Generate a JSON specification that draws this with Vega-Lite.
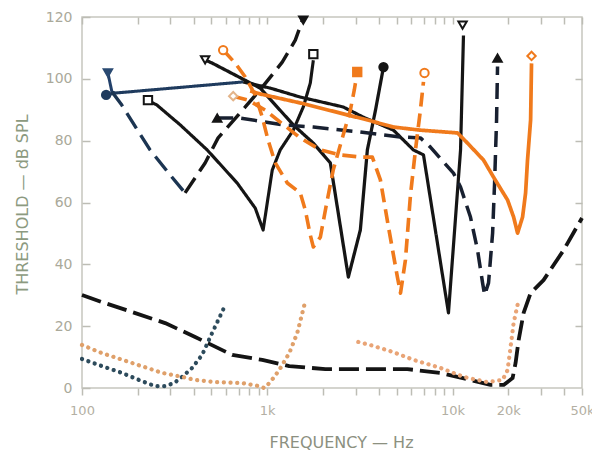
{
  "$schema": "https://vega.github.io/schema/vega-lite/v6.json",
  "width": 500,
  "height": 371,
  "autosize": "none",
  "padding": {"left": 82, "top": 17, "right": 10, "bottom": 67},
  "background": "white",
  "config": {"view": {"stroke": "#c6c6be", "strokeWidth": 1.5}, "font": "DejaVu Sans"},
  "datasets": {
    "curves": [
      {"s": "blue-stem", "i": 0, "f": 138, "db": 101.9},
      {"s": "blue-stem", "i": 1, "f": 145, "db": 95.8},
      {"s": "blue-stem", "i": 2, "f": 151, "db": 95.4},
      {"s": "blue-solid", "i": 0, "f": 135, "db": 94.8},
      {"s": "blue-solid", "i": 1, "f": 151, "db": 95.4},
      {"s": "blue-solid", "i": 2, "f": 742, "db": 99.0},
      {"s": "black-c", "i": 0, "f": 227, "db": 93.1},
      {"s": "black-c", "i": 1, "f": 254, "db": 91.5},
      {"s": "black-c", "i": 2, "f": 339, "db": 85.1},
      {"s": "black-c", "i": 3, "f": 474, "db": 77.0},
      {"s": "black-c", "i": 4, "f": 688, "db": 66.3},
      {"s": "black-c", "i": 5, "f": 861, "db": 58.2},
      {"s": "black-c", "i": 6, "f": 950, "db": 51.1},
      {"s": "black-c", "i": 7, "f": 1064, "db": 70.5},
      {"s": "black-c", "i": 8, "f": 1175, "db": 77.0},
      {"s": "black-c", "i": 9, "f": 1382, "db": 83.4},
      {"s": "black-c", "i": 10, "f": 1565, "db": 90.9},
      {"s": "black-c", "i": 11, "f": 1707, "db": 98.6},
      {"s": "black-c", "i": 12, "f": 1773, "db": 106},
      {"s": "black-long", "i": 0, "f": 742, "db": 99.0},
      {"s": "black-long", "i": 1, "f": 1038, "db": 97.0},
      {"s": "black-long", "i": 2, "f": 1507, "db": 94.1},
      {"s": "black-long", "i": 3, "f": 2570, "db": 90.9},
      {"s": "black-long", "i": 4, "f": 3300, "db": 87.6},
      {"s": "black-long", "i": 5, "f": 4800, "db": 83.4},
      {"s": "black-long", "i": 6, "f": 6150, "db": 77.0},
      {"s": "black-long", "i": 7, "f": 6970, "db": 75.4},
      {"s": "black-long", "i": 8, "f": 9510, "db": 24.3},
      {"s": "black-long", "i": 9, "f": 11050, "db": 77.0},
      {"s": "black-long", "i": 10, "f": 11460, "db": 114},
      {"s": "black-v", "i": 0, "f": 462, "db": 106.1},
      {"s": "black-v", "i": 1, "f": 504, "db": 105.1},
      {"s": "black-v", "i": 2, "f": 916, "db": 97.0},
      {"s": "black-v", "i": 3, "f": 1382, "db": 85.1},
      {"s": "black-v", "i": 4, "f": 1773, "db": 79.2},
      {"s": "black-v", "i": 5, "f": 2190, "db": 72.8},
      {"s": "black-v", "i": 6, "f": 2740, "db": 35.9},
      {"s": "black-v", "i": 7, "f": 3180, "db": 51.1},
      {"s": "black-v", "i": 8, "f": 3470, "db": 77.0},
      {"s": "black-v", "i": 9, "f": 3840, "db": 89.9},
      {"s": "black-v", "i": 10, "f": 4240, "db": 103.8},
      {"s": "dash-blue", "i": 0, "f": 145, "db": 95.8},
      {"s": "dash-blue", "i": 1, "f": 164, "db": 91.5},
      {"s": "dash-blue", "i": 2, "f": 233, "db": 77.0},
      {"s": "dash-blue", "i": 3, "f": 299, "db": 68.9},
      {"s": "dash-blue", "i": 4, "f": 360, "db": 63.1},
      {"s": "dash-black", "i": 0, "f": 360, "db": 63.1},
      {"s": "dash-black", "i": 1, "f": 462, "db": 72.8},
      {"s": "dash-black", "i": 2, "f": 543, "db": 80.9},
      {"s": "dash-black", "i": 3, "f": 761, "db": 90.9},
      {"s": "dash-black", "i": 4, "f": 940, "db": 97.3},
      {"s": "dash-black", "i": 5, "f": 1205, "db": 105.4},
      {"s": "dash-black", "i": 6, "f": 1417, "db": 112.5},
      {"s": "dash-black", "i": 7, "f": 1565, "db": 119.7},
      {"s": "dash-tri", "i": 0, "f": 537, "db": 87.3},
      {"s": "dash-tri", "i": 1, "f": 715, "db": 87.3},
      {"s": "dash-tri", "i": 2, "f": 1220, "db": 85.1},
      {"s": "dash-tri", "i": 3, "f": 1773, "db": 84.4},
      {"s": "dash-tri", "i": 4, "f": 3180, "db": 82.8},
      {"s": "dash-tri", "i": 5, "f": 5240, "db": 81.2},
      {"s": "dash-tri", "i": 6, "f": 6710, "db": 80.9},
      {"s": "dash-tri", "i": 7, "f": 7600, "db": 77.9},
      {"s": "dash-tri", "i": 8, "f": 8940, "db": 73.1},
      {"s": "dash-tri", "i": 9, "f": 10120, "db": 69.5},
      {"s": "dash-tri", "i": 10, "f": 11050, "db": 65.0},
      {"s": "dash-tri", "i": 11, "f": 12500, "db": 55.3},
      {"s": "dash-tri", "i": 12, "f": 13650, "db": 44.6},
      {"s": "dash-tri", "i": 13, "f": 14530, "db": 34.0},
      {"s": "dash-tri", "i": 14, "f": 14900, "db": 30.1},
      {"s": "dash-tri", "i": 15, "f": 15650, "db": 34.0},
      {"s": "dash-tri", "i": 16, "f": 16460, "db": 50.1},
      {"s": "dash-tri", "i": 17, "f": 16870, "db": 66.3},
      {"s": "dash-tri", "i": 18, "f": 17290, "db": 86.7},
      {"s": "dash-tri", "i": 19, "f": 17500, "db": 104},
      {"s": "orange-1", "i": 0, "f": 578, "db": 109.3},
      {"s": "orange-1", "i": 1, "f": 671, "db": 105.1},
      {"s": "orange-1", "i": 2, "f": 761, "db": 100.6},
      {"s": "orange-1", "i": 3, "f": 861, "db": 94.8},
      {"s": "orange-1", "i": 4, "f": 940, "db": 87.6},
      {"s": "orange-1", "i": 5, "f": 1010, "db": 80.2},
      {"s": "orange-1", "i": 6, "f": 1105, "db": 72.8},
      {"s": "orange-1", "i": 7, "f": 1283, "db": 66.3},
      {"s": "orange-1", "i": 8, "f": 1507, "db": 63.1},
      {"s": "orange-1", "i": 9, "f": 1604, "db": 57.6},
      {"s": "orange-1", "i": 10, "f": 1707, "db": 49.5},
      {"s": "orange-1", "i": 11, "f": 1773, "db": 45.6},
      {"s": "orange-1", "i": 12, "f": 1935, "db": 48.8},
      {"s": "orange-1", "i": 13, "f": 2084, "db": 59.2},
      {"s": "orange-1", "i": 14, "f": 2270, "db": 70.5},
      {"s": "orange-1", "i": 15, "f": 2480, "db": 78.6},
      {"s": "orange-1", "i": 16, "f": 2810, "db": 89.9},
      {"s": "orange-1", "i": 17, "f": 2950, "db": 96.4},
      {"s": "orange-1", "i": 18, "f": 3060, "db": 102.2},
      {"s": "orange-2", "i": 0, "f": 655, "db": 94.4},
      {"s": "orange-2", "i": 1, "f": 789, "db": 93.1},
      {"s": "orange-2", "i": 2, "f": 975, "db": 89.9},
      {"s": "orange-2", "i": 3, "f": 1175, "db": 86.0},
      {"s": "orange-2", "i": 4, "f": 1507, "db": 80.9},
      {"s": "orange-2", "i": 5, "f": 1935, "db": 77.0},
      {"s": "orange-2", "i": 6, "f": 2480, "db": 75.4},
      {"s": "orange-2", "i": 7, "f": 3180, "db": 74.7},
      {"s": "orange-2", "i": 8, "f": 3690, "db": 74.7},
      {"s": "orange-2", "i": 9, "f": 4080, "db": 67.3},
      {"s": "orange-2", "i": 10, "f": 4510, "db": 52.1},
      {"s": "orange-2", "i": 11, "f": 5040, "db": 35.9},
      {"s": "orange-2", "i": 12, "f": 5240, "db": 30.7},
      {"s": "orange-2", "i": 13, "f": 5570, "db": 41.4},
      {"s": "orange-2", "i": 14, "f": 5930, "db": 62.4},
      {"s": "orange-2", "i": 15, "f": 6310, "db": 77.0},
      {"s": "orange-2", "i": 16, "f": 6710, "db": 89.9},
      {"s": "orange-2", "i": 17, "f": 6970, "db": 99.0},
      {"s": "orange-solid", "i": 0, "f": 809, "db": 96.1},
      {"s": "orange-solid", "i": 1, "f": 916, "db": 95.1},
      {"s": "orange-solid", "i": 2, "f": 1507, "db": 92.2},
      {"s": "orange-solid", "i": 3, "f": 3470, "db": 86.7},
      {"s": "orange-solid", "i": 4, "f": 4800, "db": 84.4},
      {"s": "orange-solid", "i": 5, "f": 6710, "db": 83.4},
      {"s": "orange-solid", "i": 6, "f": 10640, "db": 82.5},
      {"s": "orange-solid", "i": 7, "f": 12050, "db": 79.2},
      {"s": "orange-solid", "i": 8, "f": 14710, "db": 73.7},
      {"s": "orange-solid", "i": 9, "f": 16650, "db": 68.2},
      {"s": "orange-solid", "i": 10, "f": 19830, "db": 60.8},
      {"s": "orange-solid", "i": 11, "f": 21370, "db": 55.3},
      {"s": "orange-solid", "i": 12, "f": 22450, "db": 50.1},
      {"s": "orange-solid", "i": 13, "f": 23890, "db": 55.3},
      {"s": "orange-solid", "i": 14, "f": 24800, "db": 63.1},
      {"s": "orange-solid", "i": 15, "f": 25400, "db": 73.7},
      {"s": "orange-solid", "i": 16, "f": 26400, "db": 86.7},
      {"s": "orange-solid", "i": 17, "f": 26700, "db": 105.0},
      {"s": "threshold", "i": 0, "f": 100, "db": 30.1},
      {"s": "threshold", "i": 1, "f": 128, "db": 27.8},
      {"s": "threshold", "i": 2, "f": 186, "db": 24.6},
      {"s": "threshold", "i": 3, "f": 281, "db": 21.0},
      {"s": "threshold", "i": 4, "f": 408, "db": 16.5},
      {"s": "threshold", "i": 5, "f": 647, "db": 10.7},
      {"s": "threshold", "i": 6, "f": 940, "db": 9.1},
      {"s": "threshold", "i": 7, "f": 1315, "db": 7.1},
      {"s": "threshold", "i": 8, "f": 2060, "db": 6.1},
      {"s": "threshold", "i": 9, "f": 4080, "db": 6.1},
      {"s": "threshold", "i": 10, "f": 5710, "db": 6.1},
      {"s": "threshold", "i": 11, "f": 8610, "db": 4.9},
      {"s": "threshold", "i": 12, "f": 12500, "db": 2.6},
      {"s": "threshold", "i": 13, "f": 16040, "db": 1.0},
      {"s": "threshold", "i": 14, "f": 18870, "db": 1.0},
      {"s": "threshold", "i": 15, "f": 21100, "db": 3.2},
      {"s": "threshold", "i": 16, "f": 21900, "db": 8.1},
      {"s": "threshold", "i": 17, "f": 22750, "db": 15.5},
      {"s": "threshold", "i": 18, "f": 24200, "db": 24.3},
      {"s": "threshold", "i": 19, "f": 26400, "db": 30.7},
      {"s": "threshold", "i": 20, "f": 31000, "db": 34.9},
      {"s": "threshold", "i": 21, "f": 39800, "db": 44.6},
      {"s": "threshold", "i": 22, "f": 50000, "db": 55.0}
    ],
    "dots": [
      {"s": "dots-1", "i": 0, "f": 100, "db": 9.4},
      {"s": "dots-1", "i": 1, "f": 128, "db": 7.1},
      {"s": "dots-1", "i": 2, "f": 164, "db": 4.9},
      {"s": "dots-1", "i": 3, "f": 203, "db": 2.6},
      {"s": "dots-1", "i": 4, "f": 248, "db": 0.6},
      {"s": "dots-1", "i": 5, "f": 281, "db": 0.6},
      {"s": "dots-1", "i": 6, "f": 314, "db": 1.6},
      {"s": "dots-1", "i": 7, "f": 347, "db": 3.6},
      {"s": "dots-1", "i": 8, "f": 393, "db": 6.5},
      {"s": "dots-1", "i": 9, "f": 445, "db": 10.7},
      {"s": "dots-1", "i": 10, "f": 504, "db": 17.8},
      {"s": "dots-1", "i": 11, "f": 550, "db": 22.6},
      {"s": "dots-1", "i": 12, "f": 593, "db": 26.8},
      {"s": "dots-2", "i": 0, "f": 100, "db": 13.9},
      {"s": "dots-2", "i": 1, "f": 128, "db": 11.3},
      {"s": "dots-2", "i": 2, "f": 186, "db": 8.1},
      {"s": "dots-2", "i": 3, "f": 271, "db": 4.9},
      {"s": "dots-2", "i": 4, "f": 347, "db": 3.6},
      {"s": "dots-2", "i": 5, "f": 408, "db": 2.6},
      {"s": "dots-2", "i": 6, "f": 524, "db": 1.9},
      {"s": "dots-2", "i": 7, "f": 733, "db": 1.6},
      {"s": "dots-2", "i": 8, "f": 905, "db": 0.6},
      {"s": "dots-2", "i": 9, "f": 963, "db": 0.0},
      {"s": "dots-2", "i": 10, "f": 1038, "db": 1.9},
      {"s": "dots-2", "i": 11, "f": 1160, "db": 5.8},
      {"s": "dots-2", "i": 12, "f": 1315, "db": 11.3},
      {"s": "dots-2", "i": 13, "f": 1452, "db": 17.8},
      {"s": "dots-2", "i": 14, "f": 1585, "db": 26.8},
      {"s": "dots-3", "i": 0, "f": 3100, "db": 14.9},
      {"s": "dots-3", "i": 1, "f": 3600, "db": 13.9},
      {"s": "dots-3", "i": 2, "f": 4800, "db": 11.6},
      {"s": "dots-3", "i": 3, "f": 6150, "db": 9.1},
      {"s": "dots-3", "i": 4, "f": 8610, "db": 6.5},
      {"s": "dots-3", "i": 5, "f": 11460, "db": 3.6},
      {"s": "dots-3", "i": 6, "f": 15460, "db": 1.9},
      {"s": "dots-3", "i": 7, "f": 18630, "db": 2.6},
      {"s": "dots-3", "i": 8, "f": 19830, "db": 5.8},
      {"s": "dots-3", "i": 9, "f": 20580, "db": 13.3},
      {"s": "dots-3", "i": 10, "f": 21370, "db": 21.0},
      {"s": "dots-3", "i": 11, "f": 22750, "db": 28.5}
    ],
    "markers": [
      {"m": "blue dot", "f": 135, "db": 94.8},
      {"m": "black dot", "f": 4240, "db": 103.8},
      {"m": "blue tri down", "f": 138, "db": 101.9},
      {"m": "black tri down", "f": 1565, "db": 119.0},
      {"m": "open square", "f": 227, "db": 93.1},
      {"m": "open square", "f": 1773, "db": 108.0},
      {"m": "open tri down", "f": 462, "db": 106.1},
      {"m": "open tri down", "f": 11330, "db": 117.4},
      {"m": "tri up", "f": 537, "db": 87.3},
      {"m": "tri up", "f": 17500, "db": 106.7},
      {"m": "orange ring", "f": 578, "db": 109.3},
      {"m": "orange ring", "f": 7060, "db": 101.9},
      {"m": "pale diamond", "f": 655, "db": 94.4},
      {"m": "orange diamond", "f": 26700, "db": 107.4},
      {"m": "orange square", "f": 3060, "db": 102.2}
    ]
  },
  "resolve": {"axis": {"x": "independent", "y": "independent"}},
  "layer": [
    {
      "data": {"name": "curves"},
      "mark": {"type": "line", "strokeCap": "butt", "strokeJoin": "round"},
      "encoding": {
        "x": {
          "field": "f", "type": "quantitative",
          "scale": {"type": "log", "domain": [100, 50000]},
          "axis": {
            "orient": "bottom",
            "values": [100, 200, 300, 400, 500, 600, 700, 800, 900, 1000, 2000, 3000, 4000, 5000, 6000, 7000, 8000, 9000, 10000, 20000, 30000, 40000, 50000],
            "labelExpr": "datum.value == 100 ? '100' : datum.value == 1000 ? '1k' : datum.value == 10000 ? '10k' : datum.value == 20000 ? '20k' : datum.value == 50000 ? '50k' : ''",
            "tickSize": 7, "tickColor": "#bdbdb5", "tickWidth": 1.5,
            "domain": false, "grid": false,
            "labelFontSize": 13, "labelColor": "#b3afa3", "labelPadding": 9,
            "labelFlush": false, "labelOverlap": false, "labelBound": false,
            "title": "FREQUENCY — Hz", "titleFontSize": 16, "titleColor": "#8c9080",
            "titleFontWeight": "normal", "titleX": 259, "titleY": 54, "titleBaseline": "middle", "titleAlign": "center"
          }
        },
        "y": {
          "field": "db", "type": "quantitative",
          "scale": {"domain": [0, 120]},
          "axis": {
            "orient": "left",
            "values": [0, 20, 40, 60, 80, 100, 120],
            "tickSize": -8, "tickColor": "#bdbdb5", "tickWidth": 1.5,
            "domain": false, "grid": false,
            "labelFontSize": 14, "labelColor": "#aaa99a", "labelPadding": 18,
            "labelFlush": false, "labelOverlap": false, "labelBound": false,
            "title": "THRESHOLD — dB SPL", "titleFontSize": 16, "titleColor": "#8c9a80",
            "titleFontWeight": "normal", "titleX": -60, "titleY": 187, "titleAngle": -90, "titleBaseline": "middle", "titleAlign": "center"
          }
        },
        "color": {
          "field": "s", "type": "nominal", "legend": null,
          "scale": {
            "domain": ["blue-stem", "blue-solid", "black-c", "black-long", "black-v", "dash-blue", "dash-black", "dash-tri", "orange-1", "orange-2", "orange-solid", "threshold", "dots-1", "dots-2", "dots-3"],
            "range": ["#22406a", "#1f3b5e", "#151515", "#151515", "#151515", "#1c3552", "#161616", "#182030", "#f07a1c", "#f07a1c", "#f07a1c", "#141414", "#2d4b5c", "#dfa06a", "#e9a476"]
          }
        },
        "strokeDash": {
          "field": "s", "type": "nominal", "legend": null,
          "scale": {
            "domain": ["blue-stem", "blue-solid", "black-c", "black-long", "black-v", "dash-blue", "dash-black", "dash-tri", "orange-1", "orange-2", "orange-solid", "threshold"],
            "range": [[1, 0], [1, 0], [1, 0], [1, 0], [1, 0], [18, 8], [18, 8], [16, 8], [14, 7], [14, 7], [1, 0], [20, 7]]
          }
        },
        "strokeWidth": {
          "field": "s", "type": "ordinal", "legend": null,
          "scale": {
            "domain": ["blue-stem", "blue-solid", "black-c", "black-long", "black-v", "dash-blue", "dash-black", "dash-tri", "orange-1", "orange-2", "orange-solid", "threshold"],
            "range": [3, 3.8, 3.8, 3.8, 3.8, 5, 5, 5, 4.5, 4.5, 4, 5.5]
          }
        },
        "order": {"field": "i", "type": "quantitative"}
      }
    },
    {
      "data": {"name": "dots"},
      "mark": {"type": "line", "strokeCap": "round", "strokeDash": [0.1, 6.6], "strokeWidth": 4.2},
      "encoding": {
        "x": {
          "field": "f", "type": "quantitative",
          "scale": {"type": "log", "domain": [100, 50000]},
          "axis": {
            "orient": "top",
            "values": [100, 200, 300, 400, 500, 600, 700, 800, 900, 1000, 2000, 3000, 4000, 5000, 6000, 7000, 8000, 9000, 10000, 20000, 30000, 40000, 50000],
            "tickSize": -7, "tickColor": "#bdbdb5", "tickWidth": 1.5,
            "labels": false, "domain": false, "grid": false, "title": null
          }
        },
        "y": {
          "field": "db", "type": "quantitative",
          "scale": {"domain": [0, 120]},
          "axis": {
            "orient": "right",
            "values": [20, 40, 60, 80, 100],
            "tickSize": -7, "tickColor": "#bdbdb5", "tickWidth": 1.5,
            "labels": false, "domain": false, "grid": false, "title": null
          }
        },
        "color": {
          "field": "s", "type": "nominal", "legend": null,
          "scale": {
            "domain": ["blue-stem", "blue-solid", "black-c", "black-long", "black-v", "dash-blue", "dash-black", "dash-tri", "orange-1", "orange-2", "orange-solid", "threshold", "dots-1", "dots-2", "dots-3"],
            "range": ["#22406a", "#1f3b5e", "#151515", "#151515", "#151515", "#1c3552", "#161616", "#182030", "#f07a1c", "#f07a1c", "#f07a1c", "#141414", "#2d4b5c", "#dfa06a", "#e9a476"]
          }
        },
        "order": {"field": "i", "type": "quantitative"}
      }
    },
    {
      "data": {"name": "markers"},
      "mark": {"type": "point", "filled": false, "opacity": 1, "strokeWidth": 2, "size": 70},
      "encoding": {
        "x": {"field": "f", "type": "quantitative", "scale": {"type": "log", "domain": [100, 50000]}, "axis": null},
        "y": {"field": "db", "type": "quantitative", "scale": {"domain": [0, 120]}, "axis": null},
        "shape": {
          "field": "m", "type": "nominal", "legend": null,
          "scale": {
            "domain": ["blue dot", "black dot", "blue tri down", "black tri down", "open square", "open tri down", "tri up", "orange ring", "pale diamond", "orange diamond", "orange square"],
            "range": ["circle", "circle", "triangle-down", "triangle-down", "square", "triangle-down", "triangle-up", "circle", "diamond", "diamond", "square"]
          }
        },
        "fill": {
          "field": "m", "type": "nominal", "legend": null,
          "scale": {
            "domain": ["blue dot", "black dot", "blue tri down", "black tri down", "open square", "open tri down", "tri up", "orange ring", "pale diamond", "orange diamond", "orange square"],
            "range": ["#1f3b5e", "#151515", "#2a4a72", "#151515", "#ffffff", "#ffffff", "#151515", "#ffffff", "#ffffff", "#ffffff", "#f07a1c"]
          }
        },
        "stroke": {
          "field": "m", "type": "nominal", "legend": null,
          "scale": {
            "domain": ["blue dot", "black dot", "blue tri down", "black tri down", "open square", "open tri down", "tri up", "orange ring", "pale diamond", "orange diamond", "orange square"],
            "range": ["#1f3b5e", "#151515", "#2a4a72", "#151515", "#151515", "#151515", "#151515", "#f07a1c", "#e3b48a", "#f07a1c", "#f07a1c"]
          }
        }
      }
    }
  ]
}
